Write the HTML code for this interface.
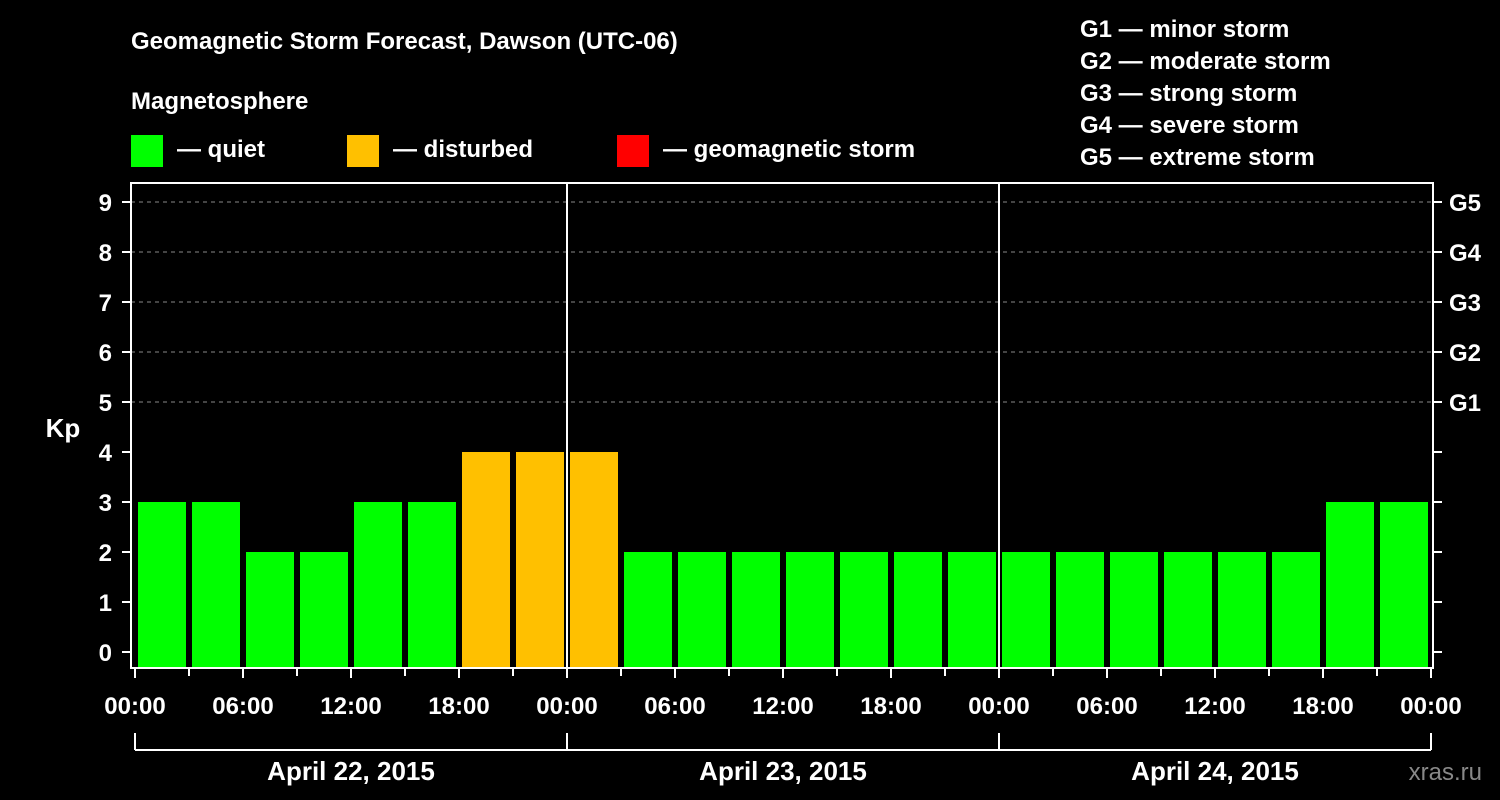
<!DOCTYPE html>
<html><head><meta charset="utf-8"><style>
body{margin:0;background:#000;}
svg{display:block;font-family:"Liberation Sans",Arial,sans-serif;font-weight:bold;}
</style></head><body>
<svg id="chart" width="1500" height="800" viewBox="0 0 1500 800">
<rect width="1500" height="800" fill="#000"/>
<text x="131" y="49" fill="#fff" font-size="24">Geomagnetic Storm Forecast, Dawson (UTC-06)</text>
<text x="131" y="109" fill="#fff" font-size="24">Magnetosphere</text>
<g><rect x="131" y="135" width="32" height="32" fill="#00ff00"/><text x="177" y="157" fill="#fff" font-size="24">— quiet</text></g>
<g><rect x="347" y="135" width="32" height="32" fill="#ffc000"/><text x="393" y="157" fill="#fff" font-size="24">— disturbed</text></g>
<g><rect x="617" y="135" width="32" height="32" fill="#ff0000"/><text x="663" y="157" fill="#fff" font-size="24">— geomagnetic storm</text></g>
<g fill="#fff" font-size="24">
<text x="1080" y="37">G1 — minor storm</text>
<text x="1080" y="69">G2 — moderate storm</text>
<text x="1080" y="101">G3 — strong storm</text>
<text x="1080" y="133">G4 — severe storm</text>
<text x="1080" y="165">G5 — extreme storm</text>
</g>
<text x="63" y="437" fill="#fff" font-size="26" text-anchor="middle">Kp</text>
<text x="1482" y="780" fill="#888" font-size="24" text-anchor="end" font-weight="normal">xras.ru</text>
<g id="grid"></g><g id="bars"></g><g id="axes"></g>
</svg>
<script>
const kpValues=[3,3,2,2,3,3,4,4,4,2,2,2,2,2,2,2,2,2,2,2,2,2,3,3];
const yTicks=[0,1,2,3,4,5,6,7,8,9];
const gLabels=["G1","G2","G3","G4","G5"];
const gLevels=[5,6,7,8,9];
const xLabels=["00:00","06:00","12:00","18:00","00:00","06:00","12:00","18:00","00:00","06:00","12:00","18:00","00:00"];
const dayLabels=["April 22, 2015","April 23, 2015","April 24, 2015"];
const NS="http://www.w3.org/2000/svg";
const x0=135,hourPx=18,L=131,R=1433,T=183,B=668;
const xs=h=>x0+h*hourPx;
const ys=v=>652-50*v;
function mk(p,t,a){const e=document.createElementNS(NS,t);for(const k in a)e.setAttribute(k,a[k]);p.appendChild(e);return e;}
const grid=document.getElementById('grid'),bars=document.getElementById('bars'),axes=document.getElementById('axes');
gLevels.forEach(v=>{const l=mk(grid,'line',{x1:L,x2:R,y1:ys(v),y2:ys(v),stroke:'#888','stroke-dasharray':'4,4','stroke-width':1});

});
kpValues.forEach((v,i)=>{const c=v>=5?'#ff0000':(v>=4?'#ffc000':'#00ff00');
const r=mk(bars,'rect',{x:xs(i*3)+3,y:ys(v),width:48,height:B-ys(v),fill:c});

});
[1,2].forEach(d=>{const l=mk(axes,'line',{x1:xs(d*24),x2:xs(d*24),y1:T,y2:B,stroke:'#fff','stroke-width':2});

});
const f=mk(axes,'rect',{x:L,y:T,width:R-L,height:B-T,fill:'none',stroke:'#fff','stroke-width':2});


yTicks.forEach(v=>{mk(axes,'line',{x1:122,x2:L,y1:ys(v),y2:ys(v),stroke:'#fff','stroke-width':2});
mk(axes,'line',{x1:R,x2:1442,y1:ys(v),y2:ys(v),stroke:'#fff','stroke-width':2});
const t=mk(axes,'text',{x:112,y:ys(v)+9,fill:'#fff','font-size':24,'text-anchor':'end'});t.textContent=v;

});
gLabels.forEach((g,i)=>{const t=mk(axes,'text',{x:1449,y:ys(gLevels[i])+9,fill:'#fff','font-size':24});t.textContent=g;

});
for(let h=0;h<=72;h+=3){const major=h%6===0;mk(axes,'line',{x1:xs(h),x2:xs(h),y1:B,y2:major?678:676,stroke:'#fff','stroke-width':2});}
xLabels.forEach((s,i)=>{const t=mk(axes,'text',{x:xs(i*6),y:714,fill:'#fff','font-size':24,'text-anchor':'middle'});t.textContent=s;

});
mk(axes,'line',{x1:xs(0),x2:xs(72),y1:750,y2:750,stroke:'#fff','stroke-width':2});
for(let d=0;d<=3;d++)mk(axes,'line',{x1:xs(d*24),x2:xs(d*24),y1:733,y2:750,stroke:'#fff','stroke-width':2});
dayLabels.forEach((s,i)=>{const t=mk(axes,'text',{x:xs(i*24+12),y:780,fill:'#fff','font-size':26,'text-anchor':'middle'});t.textContent=s;

});
</script>
</body></html>
